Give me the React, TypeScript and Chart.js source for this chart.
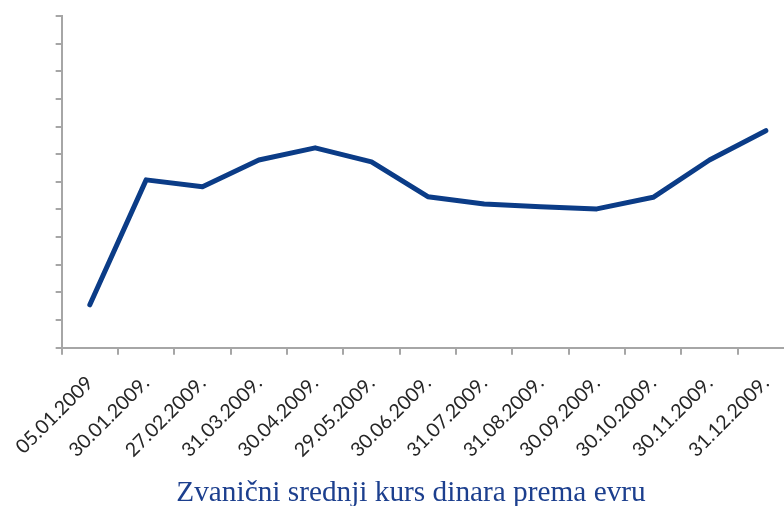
import React, { useEffect, useRef } from 'react';
import Chart from 'chart.js/auto';

const categories = [
  '05.01.2009', '30.01.2009.', '27.02.2009.', '31.03.2009.', '30.04.2009.', '29.05.2009.',
  '30.06.2009.', '31.07.2009.', '31.08.2009.', '30.09.2009.', '30.10.2009.', '30.11.2009.', '31.12.2009.',
];
const rates = [87.55, 92.07, 91.82, 92.79, 93.23, 92.72, 91.46, 91.2, 91.1, 91.02, 91.44, 92.79, 93.85];
const yMin = 86;
const yMax = 98;
const yStep = 1;
const titleText = 'Zvanični srednji kurs dinara prema evru';

export default function App() {
  const ref = useRef<HTMLCanvasElement | null>(null);
  useEffect(() => {
    if (!ref.current) return;
    const axisColor = '#a6a6a6';
    const chart = new Chart(ref.current, {
      type: 'line',
      data: {
        labels: categories,
        datasets: [
          {
            data: rates,
            borderColor: '#0b3c87',
            borderWidth: 5,
            pointRadius: 0,
            tension: 0,
            fill: false,
            borderCapStyle: 'round',
            borderJoinStyle: 'round',
          },
        ],
      },
      options: {
        animation: false,
        responsive: false,
        maintainAspectRatio: false,
        layout: { padding: { top: 16, right: 28, left: 28, bottom: 0 } },
        plugins: {
          legend: { display: false },
          tooltip: { enabled: false },
          title: {
            display: true,
            text: titleText,
            position: 'bottom',
            color: '#1c3f8e',
            font: { family: '"Liberation Serif", "Times New Roman", serif', size: 29.3, weight: 'normal', lineHeight: 0.9 },
            padding: { top: 0, bottom: 0 },
          },
        },
        scales: {
          x: {
            type: 'category',
            offset: true,
            grid: { offset: true, drawOnChartArea: false, drawTicks: true, tickLength: 7, color: axisColor, lineWidth: 2 },
            border: { display: true, color: axisColor, width: 2 },
            ticks: {
              autoSkip: false,
              minRotation: 45,
              maxRotation: 45,
              padding: 17,
              color: '#262626',
              font: { family: 'Lato, "Open Sans", sans-serif', size: 19.5 },
            },
            afterFit: (s: any) => {
              s.height = 132;
            },
          },
          y: {
            min: yMin,
            max: yMax,
            grid: { drawOnChartArea: false, drawTicks: true, tickLength: 6, color: axisColor, lineWidth: 2 },
            border: { display: true, color: axisColor, width: 2 },
            ticks: { display: false, stepSize: yStep },
            afterFit: (s: any) => {
              s.width = 33;
            },
          },
        },
      },
    });
    return () => chart.destroy();
  }, []);
  return (
    <div style={{ position: 'fixed', left: 0, top: 0, width: 784, height: 506, overflow: 'hidden', background: '#fff' }}>
      <canvas ref={ref} width={822} height={506} style={{ display: 'block' }} />
    </div>
  );
}
